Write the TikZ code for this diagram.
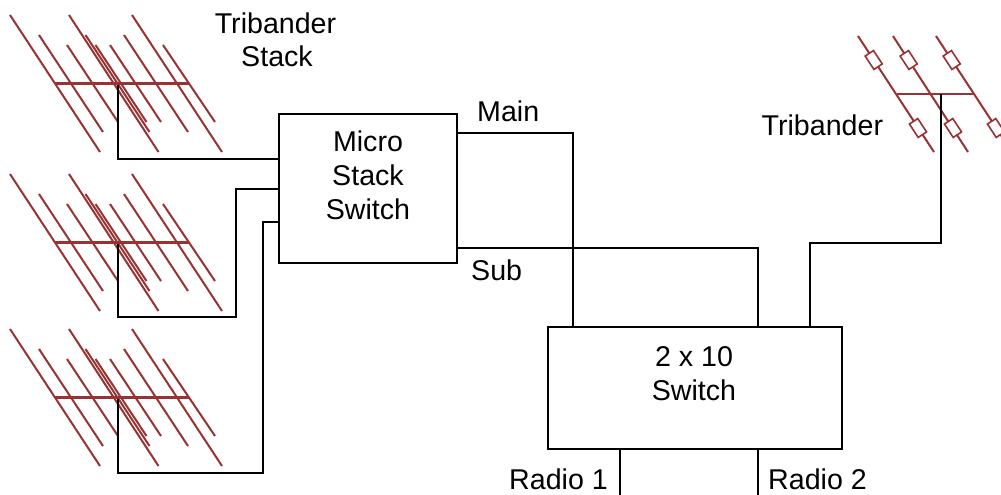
\documentclass[tikz,border=0pt]{standalone}
\usepackage{fontspec}
\setmainfont{Liberation Sans}
\definecolor{ant}{HTML}{993333}
\begin{document}
\begin{tikzpicture}[x=1pt,y=-1pt,
  wire/.style={line width=2pt},
  el/.style={draw=ant, line width=2pt},
  boom/.style={draw=ant, line width=2.6pt},
  box/.style={draw, line width=2pt, inner sep=0pt},
  lbl/.style={font=\fontsize{28.6}{34}\selectfont, inner sep=0pt},
  res/.style={draw=ant, fill=white, line width=1.6pt, minimum width=16pt, minimum height=10pt, inner sep=0pt, rotate=-56.8},
  yagi/.pic={
    \draw[el] (10,15)--(100,152);
    \draw[el] (39,35)--(103,132);
    \draw[el] (67,45)--(118,122);
    \draw[el] (69,15)--(158.5,152);
    \draw[el] (85.5,35)--(149.5,132);
    \draw[el] (95.5,45)--(146.5,122);
    \draw[el] (110,45)--(161,122);
    \draw[el] (124,35)--(188,132);
    \draw[el] (132,15)--(222,152);
    \draw[el] (163,45)--(215,122);
    \draw[boom] (55,83.3)--(189,83.3);
    \coordinate (-feed) at (118,84.5);
  }]
\clip (0,0) rectangle (1001,495);
\fill[white] (0,0) rectangle (1001,495);

% stacked tribanders
\pic (a1) at (0,0) {yagi};
\pic (a2) at (0,159) {yagi};
\pic (a3) at (0,314) {yagi};

% single tribander
\draw[el] (858,36)--(934,152);
\draw[el] (893,36)--(968,152);
\draw[el] (936,36)--(1012,152);
\draw[el] (897,94)--(973,94);
\coordinate (tfeed) at (941,94);
\node[res] (r1) at (873.7,60) {};
\node[res] (r2) at (918,128) {};
\node[res] (r3) at (908.7,60) {};
\node[res] (r4) at (953,128) {};
\node[res] (r5) at (951.7,60) {};
\node[res] (r6) at (996,128) {};

% boxes
\node[box, minimum width=178pt, minimum height=149pt] (msw) at (368,188.5) {};
\node[box, minimum width=294pt, minimum height=122pt] (sw) at (695,388) {};

% texts
\node[lbl, anchor=base] (t1) at (275.5,33.5) {Tribander};
\node[lbl, anchor=base] (t2) at (277,66.7) {Stack};
\node[lbl, anchor=base] (m1) at (368,151.7) {Micro};
\node[lbl, anchor=base] (m2) at (368,185.5) {Stack};
\node[lbl, anchor=base] (m3) at (368,219.3) {Switch};
\node[lbl, anchor=base] (s1) at (694,366.7) {2 x 10};
\node[lbl, anchor=base] (s2) at (694,400) {Switch};
\node[lbl, anchor=base west] (mainl) at (477,121.5) {Main};
\node[lbl, anchor=base west] (subl) at (471,280) {Sub};
\node[lbl, anchor=base west] (tl) at (761.5,135) {Tribander};
\node[lbl, anchor=base east] (rl1) at (608,489.5) {Radio 1};
\node[lbl, anchor=base west] (rl2) at (768,489.5) {Radio 2};

% wiring
\draw[wire] (a1-feed) |- (msw.west |- 0,159);
\draw[wire] (a2-feed) |- (236,317) |- (msw.west |- 0,189);
\draw[wire] (a3-feed) |- (263,473) |- (msw.west |- 0,222);
\draw[wire] (msw.east |- 0,133) -| (sw.north -| 573,0);
\draw[wire] (msw.east |- 0,248) -| (sw.north -| 758,0);
\draw[wire] (tfeed) |- (810,243) -- (sw.north -| 810,0);
\coordinate (r1end) at (620,497);
\coordinate (r2end) at (758,497);
\draw[wire] (sw.south -| 620,0) -- (r1end);
\draw[wire] (sw.south -| 758,0) -- (r2end);
\end{tikzpicture}
\end{document}
